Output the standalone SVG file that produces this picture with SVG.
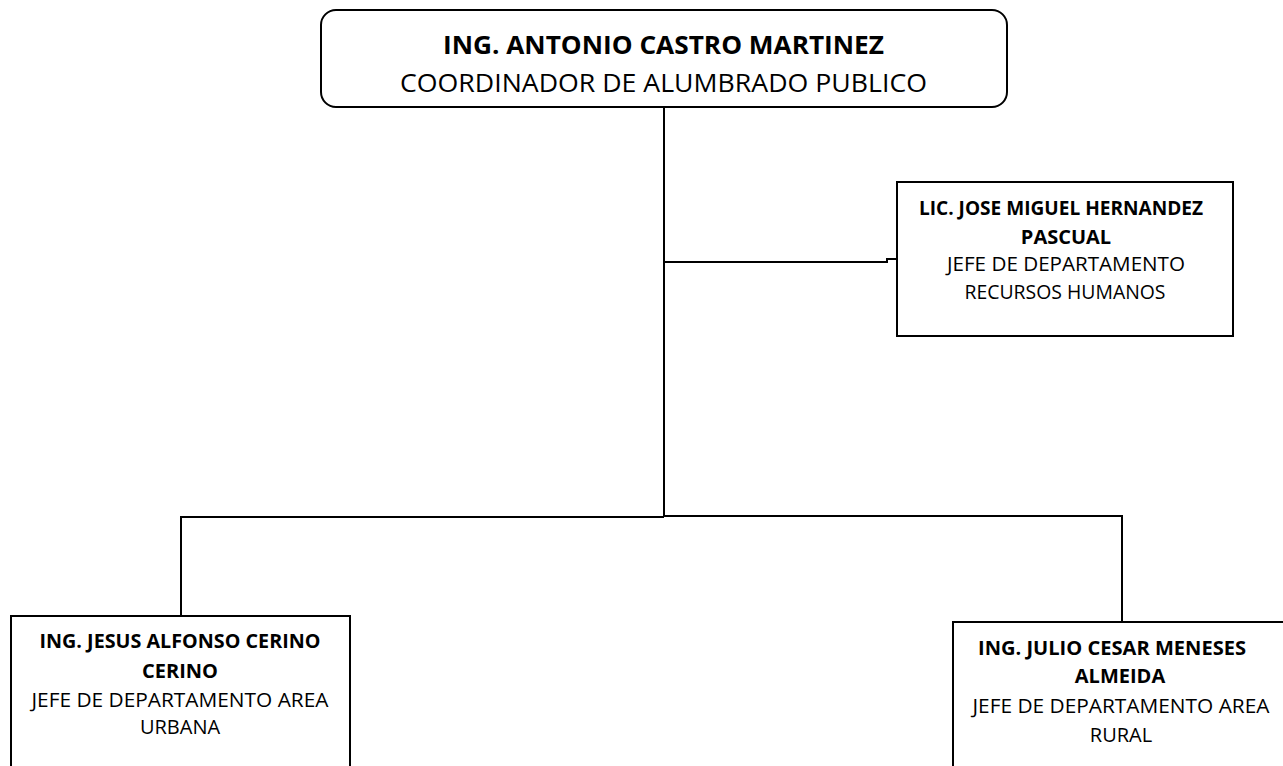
<svg xmlns="http://www.w3.org/2000/svg" width="1283" height="766" viewBox="0 0 1283 766">
<style>
.box{fill:#fff;stroke:#000;stroke-width:2}
.ln{fill:none;stroke:#000;stroke-width:2}
text{font-family:"Open Sans","Noto Sans",sans-serif;text-anchor:middle;fill:#000}
.b{font-weight:bold;font-size:20px}
.r{font-size:20px}
.tb{font-weight:bold;font-size:25px}
.tr{font-size:25px}
</style>
<rect width="1283" height="766" fill="#fff"/>
<g id="connectors">
<path class="ln" d="M664 107 V517"/>
<path class="ln" d="M664 262 H887 V259 H897"/>
<path class="ln" d="M181 616 V517 H664"/>
<path class="ln" d="M664 516 H1122 V622"/>
</g>
<g id="coordinador">
<rect class="box" x="321" y="10" width="686" height="97" rx="15"/>
<text class="tb" x="663.5" y="54" textLength="441" lengthAdjust="spacingAndGlyphs">ING. ANTONIO CASTRO MARTINEZ</text>
<text class="tr" x="663.5" y="92" textLength="527" lengthAdjust="spacingAndGlyphs">COORDINADOR DE ALUMBRADO PUBLICO</text>
</g>
<g id="recursos-humanos">
<rect class="box" x="897" y="182" width="336" height="154"/>
<text class="b" x="1061" y="215" textLength="284" lengthAdjust="spacingAndGlyphs">LIC. JOSE MIGUEL HERNANDEZ</text>
<text class="b" x="1066" y="244">PASCUAL</text>
<text class="r" x="1066" y="271" textLength="238" lengthAdjust="spacingAndGlyphs">JEFE DE DEPARTAMENTO</text>
<text class="r" x="1065" y="299" textLength="201" lengthAdjust="spacingAndGlyphs">RECURSOS HUMANOS</text>
</g>
<g id="area-urbana">
<rect class="box" x="11" y="616" width="339" height="170"/>
<text class="b" x="180" y="648" textLength="281" lengthAdjust="spacingAndGlyphs">ING. JESUS ALFONSO CERINO</text>
<text class="b" x="180" y="678">CERINO</text>
<text class="r" x="180" y="707" textLength="297" lengthAdjust="spacingAndGlyphs">JEFE DE DEPARTAMENTO AREA</text>
<text class="r" x="180" y="734">URBANA</text>
</g>
<g id="area-rural">
<rect class="box" x="953" y="622" width="340" height="170"/>
<text class="b" x="1112" y="655" textLength="268" lengthAdjust="spacingAndGlyphs">ING. JULIO CESAR MENESES</text>
<text class="b" x="1120" y="683">ALMEIDA</text>
<text class="r" x="1121" y="713" textLength="297" lengthAdjust="spacingAndGlyphs">JEFE DE DEPARTAMENTO AREA</text>
<text class="r" x="1121" y="742">RURAL</text>
</g>
</svg>
